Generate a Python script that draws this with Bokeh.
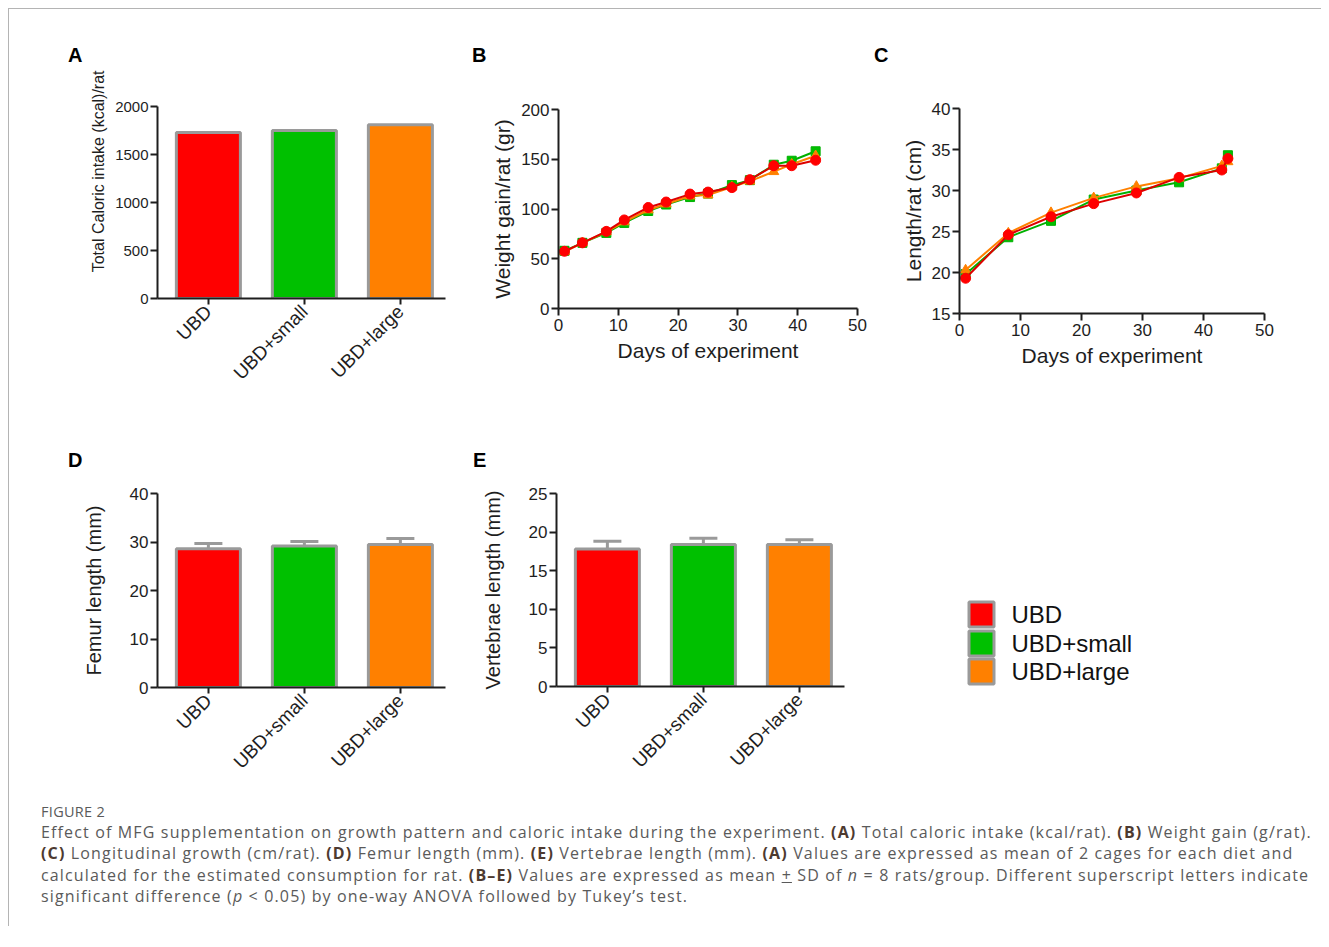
from bokeh.plotting import figure
from bokeh.layouts import row, column
from bokeh.models import (Range1d, FixedTicker, Div, ColumnDataSource, Whisker, TeeHead)
from bokeh.core.properties import value
from bokeh.embed import file_html
from bokeh.resources import INLINE

# ---------------- data ----------------
groups = ["UBD", "UBD+small", "UBD+large"]
group_colors = ["#ff0000", "#00c000", "#ff8000"]

caloric_intake = [1730, 1750, 1810]

femur_mean = [28.6, 29.2, 29.5]
femur_sd = [1.1, 0.9, 1.2]

vertebrae_mean = [17.8, 18.4, 18.4]
vertebrae_sd = [1.0, 0.8, 0.6]

weight_days = [1, 4, 8, 11, 15, 18, 22, 25, 29, 32, 36, 39, 43]
weight_ubd = [57.5, 66, 77.5, 89, 101.5, 107, 115, 117, 121.5, 129.5, 143.5, 143.5, 149]
weight_small = [58, 66, 76, 86, 98, 104.5, 112, 115.5, 124, 129, 144.5, 148.5, 158]
weight_large = [57, 66, 77, 87, 99, 105, 113, 114, 122, 128, 137.5, 145, 153.5]

length_days = [1, 8, 15, 22, 29, 36, 43, 44]
length_ubd = [19.3, 24.6, 26.8, 28.4, 29.7, 31.6, 32.5, 33.9]
length_small = [19.8, 24.3, 26.3, 28.9, 30.0, 31.0, 32.7, 34.3]
length_large = [20.3, 24.8, 27.3, 29.1, 30.5, 31.5, 33.0, 33.5]

panel_letters = ["A", "B", "C", "D", "E"]

# ---------------- styling helpers ----------------
FONT = "Liberation Sans"
AX = "#1e1e1e"
BAR_EDGE = "#9a9a9a"
MARGIN = 8
BORDER = 1


def no_align(p):
    try:
        p.frame_align = False
    except Exception:
        pass


def make_panel(origin, size, frame, xr, yr):
    """origin: page (x, y) of figure; size (w, h); frame (left, right, top, bottom) in page px"""
    ox, oy = origin
    w, h = size
    fl, fr, ft, fb = frame
    p = figure(width=w, height=h, x_range=xr, y_range=yr,
               output_backend="svg", toolbar_location=None,
               min_border_left=fl - ox, min_border_right=ox + w - fr,
               min_border_top=ft - oy, min_border_bottom=oy + h - fb)
    no_align(p)
    p.title.visible = False
    p.outline_line_color = None
    p.grid.visible = False
    p.background_fill_color = None
    p.border_fill_color = None
    for ax in p.axis:
        ax.axis_line_width = 2
        ax.axis_line_color = AX
        ax.major_tick_line_width = 2
        ax.major_tick_line_color = AX
        ax.major_tick_in = 0
        ax.major_tick_out = 7
        ax.minor_tick_line_color = None
        ax.major_label_text_font = FONT
        ax.major_label_text_color = AX
        ax.axis_label_text_font = FONT
        ax.axis_label_text_font_style = "normal"
        ax.axis_label_text_color = AX
    return p


def bar_panel(origin, size, frame, values, sd, ymax, step, ylabel, tick_fs, label_fs,
              label_standoff):
    xs = list(range(len(groups)))
    p = make_panel(origin, size, frame, Range1d(-0.53, 2.47), Range1d(0, ymax))
    src = ColumnDataSource(dict(x=xs, top=values, color=group_colors,
                                upper=[v + s for v, s in zip(values, sd)] if sd else values))
    if sd:
        p.add_layout(Whisker(source=src, base="x", upper="upper", lower="top",
                             dimension="height", line_color=BAR_EDGE, line_width=3,
                             upper_head=TeeHead(size=28, line_color=BAR_EDGE, line_width=3),
                             lower_head=None, level="underlay"))
    p.vbar(x="x", top="top", width=0.667, source=src, fill_color="color",
           line_color=BAR_EDGE, line_width=3)
    p.xaxis.ticker = FixedTicker(ticks=xs)
    p.xaxis.major_label_overrides = {i: g for i, g in enumerate(groups)}
    p.xaxis.major_label_orientation = 0.785398
    p.xaxis.major_label_text_font_size = "19px"
    p.xaxis.major_tick_out = 6
    p.xaxis.major_label_standoff = 4
    p.yaxis.ticker = FixedTicker(ticks=list(range(0, ymax + 1, step)))
    p.yaxis.major_label_text_font_size = tick_fs
    p.yaxis.major_label_standoff = 2
    p.yaxis.axis_label = ylabel
    p.yaxis.axis_label_text_font_size = label_fs
    p.yaxis.axis_label_standoff = label_standoff
    return p


def line_panel(origin, size, frame, days, series, ystart, yend, ystep, ylabel):
    p = make_panel(origin, size, frame, Range1d(0, 50), Range1d(ystart, yend))
    ubd, small, large = series
    p.line(days, small, line_color="#00b000", line_width=2)
    p.scatter(days, small, marker="square", size=9, fill_color="#00c000", line_color="#00b000")
    p.line(days, large, line_color="#ff8000", line_width=2)
    p.scatter(days, large, marker="triangle", size=10, fill_color="#ff8000", line_color="#ff8000")
    p.line(days, ubd, line_color="#dd0000", line_width=2)
    p.scatter(days, ubd, marker="circle", size=10, fill_color="#ff0000", line_color="#ff0000")
    p.xaxis.ticker = FixedTicker(ticks=list(range(0, 51, 10)))
    p.yaxis.ticker = FixedTicker(ticks=list(range(ystart, yend + 1, ystep)))
    p.axis.major_label_text_font_size = "17px"
    p.xaxis.major_label_standoff = 3
    p.yaxis.major_label_standoff = 2
    p.xaxis.axis_label = "Days of experiment"
    p.yaxis.axis_label = ylabel
    p.axis.axis_label_text_font_size = "21px"
    p.xaxis.axis_label_standoff = 5
    p.yaxis.axis_label_standoff = 4
    return p


def letter_div(letters_xy, top, height, width):
    spans = "".join(
        f'<span style="position:absolute;left:{x - MARGIN - BORDER}px;top:{cy - 10 - top}px;">{t}</span>'
        for t, (x, cy) in letters_xy)
    html = (f'<div style="position:relative;width:{width}px;height:{height}px;'
            f'font-family:\'{FONT}\';font-weight:700;font-size:20px;line-height:20px;color:#000;">'
            f'{spans}</div>')
    return Div(text=html, width=width, height=height, margin=0)


# ---------------- layout geometry (page pixels) ----------------
W1, W2, W3 = 450, 412, 450
WT = W1 + W2 + W3
X0 = MARGIN + BORDER
Y0 = MARGIN + BORDER
X1, X2 = X0 + W1, X0 + W1 + W2

L1_H = 58                 # strip for letters A-C
R1_Y = Y0 + L1_H          # top row figures
R1_H = 374
L2_Y = R1_Y + R1_H        # strip for letters D-E
L2_H = 35
R2_Y = L2_Y + L2_H
R2_H = 325

frameA = (157, 445, 106, 298)
frameB = (558, 857, 109, 308)
frameC = (959, 1264, 108, 313)
frameD = (157, 445, 493, 687)
frameE = (556, 844, 493, 686)

letters1 = letter_div(list(zip(panel_letters[:3], [(68, 55), (472, 55), (874, 55)])), Y0, L1_H, WT)
letters2 = letter_div(list(zip(panel_letters[3:], [(68, 460), (473, 460)])), L2_Y, L2_H, WT)

# In the original the caloric-intake label sits above the axis centre; leading no-break
# spaces shift the visible text upward along the rotated label.
A_LABEL = "Total Caloric intake (kcal)/rat"
A_LABEL_SHIFT = "\u00a0" * 14
pA = bar_panel((X0, R1_Y), (W1, R1_H), frameA, caloric_intake, None, 2000, 500,
               A_LABEL_SHIFT + A_LABEL, "15px", "16px", 5)

pB = line_panel((X1, R1_Y), (W2, R1_H), frameB, weight_days,
                (weight_ubd, weight_small, weight_large), 0, 200, 50,
                "Weight gain/rat (gr)")

pC = line_panel((X2, R1_Y), (W3, R1_H), frameC, length_days,
                (length_ubd, length_small, length_large), 15, 40, 5,
                "Length/rat (cm)")

pD = bar_panel((X0, R2_Y), (W1, R2_H), frameD, femur_mean, femur_sd, 40, 10,
               "Femur length (mm)", "17px", "20px", 22)

pE = bar_panel((X1, R2_Y), (W2, R2_H), frameE, vertebrae_mean, vertebrae_sd, 25, 5,
               "Vertebrae length (mm)", "17px", "20px", 22)

# legend panel: ranges in page pixels (y downward) so the key sits where the original has it
pL = figure(width=W3, height=R2_H, x_range=Range1d(X2, X2 + W3),
            y_range=Range1d(R2_Y + R2_H, R2_Y),
            output_backend="svg", toolbar_location=None,
            min_border_left=0, min_border_right=0, min_border_top=0, min_border_bottom=0)
no_align(pL)
pL.title.visible = False
pL.axis.visible = False
pL.grid.visible = False
pL.outline_line_color = None
legend_rows_y = [614, 643, 671]
pL.rect(x=981, y=legend_rows_y, width=25, height=25, fill_color=group_colors,
        line_color=BAR_EDGE, line_width=3)
pL.text(x=1011, y=legend_rows_y, text=groups, text_baseline="middle", text_align="left",
        text_font=value(FONT), text_font_size="24px", text_color="#111111")

B = 'style="color:#4d3a30;font-weight:700"'
caption_html = (
    '<div style="margin-left:32px;margin-top:0px;font-family:\'Open Sans\';color:#5a5a5a;white-space:nowrap;">'
    '<div style="font-size:14.5px;letter-spacing:0.3px;line-height:21px;">FIGURE 2</div>'
    '<div style="font-size:16px;letter-spacing:1.15px;line-height:21.3px;">'
    'Effect of MFG supplementation on growth pattern and caloric intake during the experiment. '
    f'<span {B}>(A)</span> Total caloric intake (kcal/rat). '
    f'<span {B}>(B)</span> Weight gain (g/rat).<br>'
    f'<span {B}>(C)</span> Longitudinal growth (cm/rat). '
    f'<span {B}>(D)</span> Femur length (mm). '
    f'<span {B}>(E)</span> Vertebrae length (mm). '
    f'<span {B}>(A)</span> Values are expressed as mean of 2 cages for each diet and<br>'
    'calculated for the estimated consumption for rat. '
    f'<span {B}>(B\u2013E)</span> Values are expressed as mean <u>+</u> SD of '
    '<i>n</i> = 8 rats/group. Different superscript letters indicate<br>'
    'significant difference (<i>p</i> &lt; 0.05) by one-way ANOVA followed by Tukey\u2019s test.'
    '</div></div>'
)
caption = Div(text=caption_html, width=WT, height=125, margin=0)

layout = column(letters1, row(pA, pB, pC), letters2, row(pD, pE, pL), caption,
                margin=(MARGIN, 0, 0, MARGIN),
                styles={"border-top": "1px solid #b4b4b4", "border-left": "1px solid #b4b4b4"})

open("out.html", "w").write(file_html(layout, INLINE))
